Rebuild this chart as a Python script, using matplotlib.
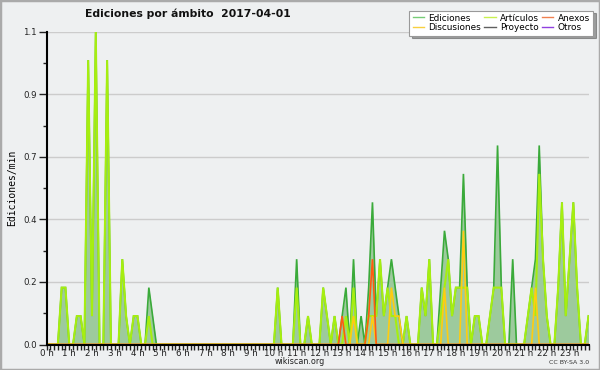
import matplotlib
matplotlib.use("Agg")
import matplotlib.pyplot as plt
from matplotlib.lines import Line2D
from matplotlib.patches import Rectangle
import numpy as np

title = "Ediciones por ámbito  2017-04-01"
hours = list(range(24))
hour_labels = [f"{h} h" for h in hours]
y_ticks = [0.0, 0.22, 0.44, 0.66, 0.88, 1.1]

# Edits per minute, one value per 10-minute slot (6 per hour)
ediciones = [
    0, 0, 0, 0, .2, .2,      # 0 h
    0, 0, .1, .1, 0, 1.0,    # 1 h
    .1, 1.1, 0, 0, 1.0, 0,   # 2 h
    0, 0, .3, .1, 0, .1,     # 3 h
    .1, 0, 0, .2, .1, 0,     # 4 h
    0, 0, 0, 0, 0, 0,        # 5 h
    0, 0, 0, 0, 0, 0,        # 6 h
    0, 0, 0, 0, 0, 0,        # 7 h
    0, 0, 0, 0, 0, 0,        # 8 h
    0, 0, 0, 0, 0, 0,        # 9 h
    0, .2, 0, 0, 0, 0,       # 10 h
    .3, 0, 0, .1, 0, 0,      # 11 h
    0, .2, .1, 0, .1, 0,     # 12 h
    .1, .2, 0, .3, 0, .1,    # 13 h
    0, .2, .5, .1, .3, .1,   # 14 h
    .2, .3, .2, .1, 0, .1,   # 15 h
    0, 0, 0, .2, .1, .3,     # 16 h
    0, 0, .2, .4, .3, .1,    # 17 h
    .2, .2, .6, .2, 0, .1,   # 18 h
    .1, 0, 0, .1, .2, .7,    # 19 h
    .2, 0, 0, .3, 0, 0,      # 20 h
    0, .1, .2, .3, .7, .3,   # 21 h
    .1, 0, 0, .2, .5, .1,    # 22 h
    .3, .5, .2, 0, 0, .1,    # 23 h
]
articulos = [
    0, 0, 0, 0, .2, .2,
    0, 0, .1, .1, 0, 1.0,
    .1, 1.1, 0, 0, 1.0, 0,
    0, 0, .3, .1, 0, .1,
    .1, 0, 0, .1, 0, 0,
    0, 0, 0, 0, 0, 0,
    0, 0, 0, 0, 0, 0,
    0, 0, 0, 0, 0, 0,
    0, 0, 0, 0, 0, 0,
    0, 0, 0, 0, 0, 0,
    0, .2, 0, 0, 0, 0,
    .2, 0, 0, .1, 0, 0,
    0, .2, .1, 0, .1, 0,
    0, .1, 0, .2, 0, 0,
    0, .1, .1, .1, .3, .1,
    .2, .1, .1, 0, 0, .1,
    0, 0, 0, .2, .1, .3,
    0, 0, .1, .2, .3, .1,
    .2, .2, .2, .2, 0, .1,
    .1, 0, 0, .1, .2, .2,
    .2, 0, 0, 0, 0, 0,
    0, .1, .2, .1, .6, .3,
    .1, 0, 0, .2, .5, .1,
    .3, .5, .2, 0, 0, .1,
]
anexos = [
    0, 0, 0, 0, 0, 0,
    0, 0, 0, 0, 0, 0,
    0, 0, 0, 0, 0, 0,
    0, 0, 0, 0, 0, 0,
    0, 0, 0, 0, 0, 0,
    0, 0, 0, 0, 0, 0,
    0, 0, 0, 0, 0, 0,
    0, 0, 0, 0, 0, 0,
    0, 0, 0, 0, 0, 0,
    0, 0, 0, 0, 0, 0,
    0, 0, 0, 0, 0, 0,
    0, 0, 0, 0, 0, 0,
    0, 0, 0, 0, 0, 0,
    .1, 0, 0, 0, 0, 0,
    0, .1, .3, 0, 0, 0,
    0, 0, 0, 0, 0, 0,
    0, 0, 0, 0, 0, 0,
    0, 0, 0, 0, 0, 0,
    0, 0, 0, 0, 0, 0,
    0, 0, 0, 0, 0, 0,
    0, 0, 0, 0, 0, 0,
    0, 0, 0, 0, 0, 0,
    0, 0, 0, 0, 0, 0,
    0, 0, 0, 0, 0, 0,
]
discusiones = [
    0, 0, 0, 0, 0, 0,
    0, 0, 0, 0, 0, 0,
    0, 0, 0, 0, 0, 0,
    0, 0, 0, 0, 0, 0,
    0, 0, 0, 0, 0, 0,
    0, 0, 0, 0, 0, 0,
    0, 0, 0, 0, 0, 0,
    0, 0, 0, 0, 0, 0,
    0, 0, 0, 0, 0, 0,
    0, 0, 0, 0, 0, 0,
    0, 0, 0, 0, 0, 0,
    0, 0, 0, 0, 0, 0,
    0, 0, 0, 0, 0, 0,
    0, 0, 0, .1, 0, 0,
    0, 0, .1, 0, 0, 0,
    0, .2, .1, .1, 0, 0,
    0, 0, 0, 0, 0, 0,
    0, 0, 0, .2, 0, 0,
    0, 0, .4, 0, 0, 0,
    0, 0, 0, 0, 0, 0,
    0, 0, 0, 0, 0, 0,
    0, 0, 0, .2, 0, 0,
    0, 0, 0, 0, 0, 0,
    0, 0, 0, 0, 0, 0,
]

bg = "#eef0f1"
c_fill = "#9dca9d"
c_ed = "#3aaa3a"
c_art = "#a6ee10"
c_anx = "#ff5a10"
c_dis = "#ffcc10"

fig = plt.figure(figsize=(6, 3.7), dpi=100, facecolor=bg)
ax = fig.add_axes([46.5 / 600, 25.5 / 370, 542 / 600, 312.8 / 370])
ax.set_facecolor(bg)

t = np.arange(len(ediciones)) / 6.0
ax.fill_between(t, 0, ediciones, color=c_fill, lw=0, zorder=1)
ax.plot(t, ediciones, color=c_ed, lw=1.2, solid_joinstyle="miter", zorder=2)
ax.plot(t, articulos, color=c_art, lw=1.5, solid_joinstyle="miter", zorder=3)
ax.plot(t, discusiones, color=c_dis, lw=1.2, solid_joinstyle="miter", zorder=4)
ax.plot(t, anexos, color=c_anx, lw=1.2, solid_joinstyle="miter", zorder=5)

ax.set_xlim(0, (len(ediciones) - 1) / 6.0)
ax.set_ylim(0, 1.1)

ax.set_yticks(y_ticks)
ax.set_yticklabels([f"{v:.1f}" for v in y_ticks])
ax.set_yticks([0.11, 0.33, 0.55, 0.77, 0.99], minor=True)
ax.set_xticks(hours)
ax.set_xticklabels(hour_labels)
ax.set_xticks(np.arange(0, 144) / 6.0, minor=True)

ax.tick_params(axis="y", which="major", length=6, width=1, pad=1, labelsize=6.2, colors="#222222")
ax.tick_params(axis="y", which="minor", length=3, width=1, colors="#222222")
ax.tick_params(axis="x", which="major", length=3.5, width=1, pad=0, labelsize=6.3, colors="#222222")
ax.tick_params(axis="x", which="minor", length=3.5, width=1, colors="#222222")

for s in ["top", "right"]:
    ax.spines[s].set_visible(False)
for s in ["left", "bottom"]:
    ax.spines[s].set_color("black")
    ax.spines[s].set_linewidth(1.5)
    ax.spines[s].set_zorder(6)

ax.grid(axis="y", which="major", color="#cccccc", lw=1)
ax.set_axisbelow(True)

ax.set_ylabel("Ediciones/min", family="DejaVu Sans Mono", fontsize=7, labelpad=4)

fig.text(188 / 600, 1 - 14 / 370, title, ha="center", va="center",
         fontsize=7.8, fontweight="bold", color="#111111")
fig.text(300 / 600, 1 - 362 / 370, "wikiscan.org", ha="center", va="center",
         fontsize=5.8, color="#222222")
fig.text(589 / 600, 1 - 362 / 370, "CC BY-SA 3.0", ha="right", va="center",
         fontsize=4.5, color="#333333")

handles = [
    Line2D([], [], color="#77cc77", lw=1),
    Line2D([], [], color="#f8d040", lw=1),
    Line2D([], [], color="#c8f050", lw=1),
    Line2D([], [], color="#606060", lw=1),
    Line2D([], [], color="#f08050", lw=1),
    Line2D([], [], color="#9040e0", lw=1),
]
labels = ["Ediciones", "Discusiones", "Artículos", "Proyecto", "Anexos", "Otros"]
leg = fig.legend(handles, labels, ncol=3, loc="upper right",
                 bbox_to_anchor=(593 / 600, 1 - 10.5 / 370), bbox_transform=fig.transFigure,
                 fontsize=6.4, frameon=True, fancybox=False, shadow=True,
                 handlelength=1.3, handletextpad=0.5, columnspacing=0.3,
                 borderpad=0.35, labelspacing=0.1, borderaxespad=0)
leg.get_frame().set_edgecolor("#999999")
leg.get_frame().set_linewidth(0.8)
leg.get_frame().set_facecolor("white")

fig.patches.append(Rectangle((0, 0), 1, 1, transform=fig.transFigure, fill=False,
                             edgecolor="#aaaaaa", lw=2.5))

fig.savefig("out.png", dpi=100, facecolor=bg)
